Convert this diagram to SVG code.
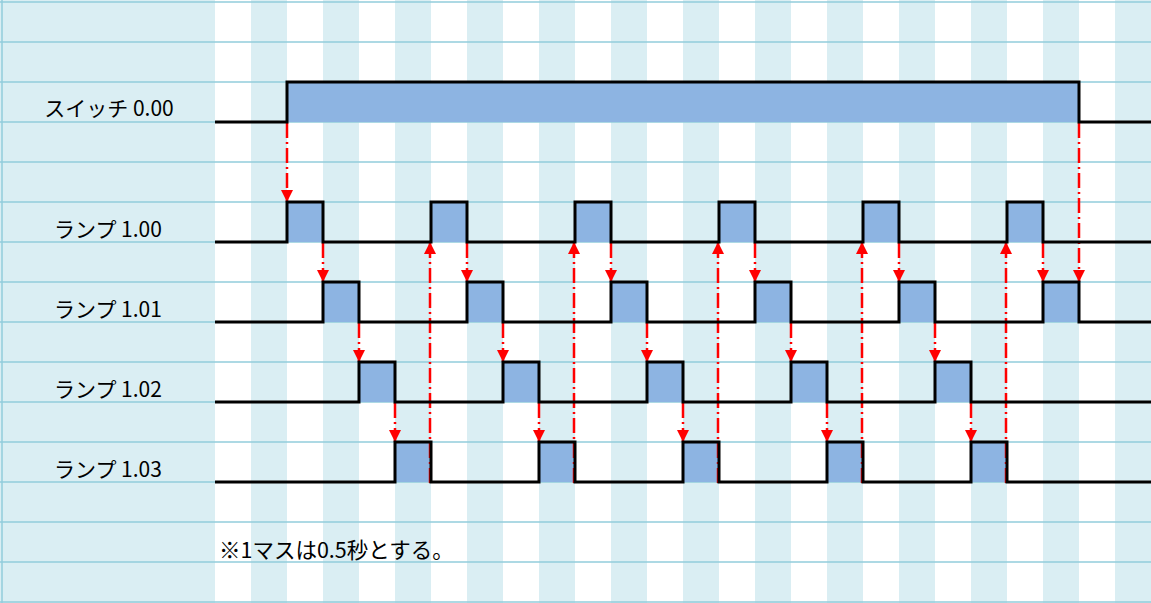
<svg xmlns="http://www.w3.org/2000/svg" width="1151" height="603" viewBox="0 0 1151 603">
<style>
.grid{stroke:#92CDDC;stroke-width:1.5;fill:none}
.wave{stroke:#000;stroke-width:3;fill:none;stroke-linejoin:miter}
.pulse{fill:#8DB4E2}
.conn{stroke:#FF0000;stroke-width:2.5;fill:none;stroke-dasharray:15 4 2 4}
.lbl{font-family:"Noto Sans CJK JP","Liberation Sans",sans-serif;font-size:21px;fill:#000}
.note{font-family:"Noto Sans CJK JP","Liberation Sans",sans-serif;font-size:21.5px;fill:#000}
</style>
<defs>
<marker id="ah" markerUnits="userSpaceOnUse" markerWidth="12" markerHeight="12" refX="12" refY="6" orient="auto">
<path d="M0,0 L12,6 L0,12 z" fill="#FF0000"/>
</marker>
</defs>
<g id="background">
<rect x="0" y="0" width="1151" height="603" fill="#DAEEF3"/>
<g fill="#FFFFFF">
<rect x="215" y="0" width="36" height="603"/>
<rect x="287" y="0" width="36" height="603"/>
<rect x="359" y="0" width="36" height="603"/>
<rect x="431" y="0" width="36" height="603"/>
<rect x="503" y="0" width="36" height="603"/>
<rect x="575" y="0" width="36" height="603"/>
<rect x="647" y="0" width="36" height="603"/>
<rect x="719" y="0" width="36" height="603"/>
<rect x="791" y="0" width="36" height="603"/>
<rect x="863" y="0" width="36" height="603"/>
<rect x="935" y="0" width="36" height="603"/>
<rect x="1007" y="0" width="36" height="603"/>
<rect x="1079" y="0" width="36" height="603"/>
</g>
<path class="grid" d="M0,2H1151M0,42H1151M0,82H1151M0,122H1151M0,162H1151M0,202H1151M0,242H1151M0,282H1151M0,322H1151M0,362H1151M0,402H1151M0,442H1151M0,482H1151M0,522H1151M0,562H1151M0,602H1151M2,0V603"/>
</g>
<g id="fills">
<rect class="pulse" x="287" y="82" width="792" height="40"/>
<rect class="pulse" x="287" y="202" width="36" height="40"/>
<rect class="pulse" x="431" y="202" width="36" height="40"/>
<rect class="pulse" x="575" y="202" width="36" height="40"/>
<rect class="pulse" x="719" y="202" width="36" height="40"/>
<rect class="pulse" x="863" y="202" width="36" height="40"/>
<rect class="pulse" x="1007" y="202" width="36" height="40"/>
<rect class="pulse" x="323" y="282" width="36" height="40"/>
<rect class="pulse" x="467" y="282" width="36" height="40"/>
<rect class="pulse" x="611" y="282" width="36" height="40"/>
<rect class="pulse" x="755" y="282" width="36" height="40"/>
<rect class="pulse" x="899" y="282" width="36" height="40"/>
<rect class="pulse" x="1043" y="282" width="36" height="40"/>
<rect class="pulse" x="359" y="362" width="36" height="40"/>
<rect class="pulse" x="503" y="362" width="36" height="40"/>
<rect class="pulse" x="647" y="362" width="36" height="40"/>
<rect class="pulse" x="791" y="362" width="36" height="40"/>
<rect class="pulse" x="935" y="362" width="36" height="40"/>
<rect class="pulse" x="395" y="442" width="36" height="40"/>
<rect class="pulse" x="539" y="442" width="36" height="40"/>
<rect class="pulse" x="683" y="442" width="36" height="40"/>
<rect class="pulse" x="827" y="442" width="36" height="40"/>
<rect class="pulse" x="971" y="442" width="36" height="40"/>
</g>
<g id="connectors">
<path class="conn" marker-end="url(#ah)" d="M287,123V202"/>
<path class="conn" marker-end="url(#ah)" d="M1079,123V282"/>
<path class="conn" marker-end="url(#ah)" d="M323,243V282"/>
<path class="conn" marker-end="url(#ah)" d="M467,243V282"/>
<path class="conn" marker-end="url(#ah)" d="M611,243V282"/>
<path class="conn" marker-end="url(#ah)" d="M755,243V282"/>
<path class="conn" marker-end="url(#ah)" d="M899,243V282"/>
<path class="conn" marker-end="url(#ah)" d="M1043,243V282"/>
<path class="conn" marker-end="url(#ah)" d="M359,323V362"/>
<path class="conn" marker-end="url(#ah)" d="M503,323V362"/>
<path class="conn" marker-end="url(#ah)" d="M647,323V362"/>
<path class="conn" marker-end="url(#ah)" d="M791,323V362"/>
<path class="conn" marker-end="url(#ah)" d="M935,323V362"/>
<path class="conn" marker-end="url(#ah)" d="M395,403V442"/>
<path class="conn" marker-end="url(#ah)" d="M539,403V442"/>
<path class="conn" marker-end="url(#ah)" d="M683,403V442"/>
<path class="conn" marker-end="url(#ah)" d="M827,403V442"/>
<path class="conn" marker-end="url(#ah)" d="M971,403V442"/>
<path class="conn" marker-end="url(#ah)" d="M430,483V242"/>
<path class="conn" marker-end="url(#ah)" d="M574,483V242"/>
<path class="conn" marker-end="url(#ah)" d="M718,483V242"/>
<path class="conn" marker-end="url(#ah)" d="M862,483V242"/>
<path class="conn" marker-end="url(#ah)" d="M1006,483V242"/>
</g>
<g id="switch-0.00">
<text class="lbl" x="109" y="116" text-anchor="middle">スイッチ 0.00</text>
<path class="wave" d="M215,122H287V82H1079V122H1151"/>
</g>
<g id="lamp-1.00">
<text class="lbl" x="108" y="237" text-anchor="middle">ランプ 1.00</text>
<path class="wave" d="M215,242H287V202H323V242H431V202H467V242H575V202H611V242H719V202H755V242H863V202H899V242H1007V202H1043V242H1151"/>
</g>
<g id="lamp-1.01">
<text class="lbl" x="108" y="317" text-anchor="middle">ランプ 1.01</text>
<path class="wave" d="M215,322H323V282H359V322H467V282H503V322H611V282H647V322H755V282H791V322H899V282H935V322H1043V282H1079V322H1151"/>
</g>
<g id="lamp-1.02">
<text class="lbl" x="108" y="397" text-anchor="middle">ランプ 1.02</text>
<path class="wave" d="M215,402H359V362H395V402H503V362H539V402H647V362H683V402H791V362H827V402H935V362H971V402H1151"/>
</g>
<g id="lamp-1.03">
<text class="lbl" x="108" y="477" text-anchor="middle">ランプ 1.03</text>
<path class="wave" d="M215,482H395V442H431V482H539V442H575V482H683V442H719V482H827V442H863V482H971V442H1007V482H1151"/>
</g>
<g id="note">
<text class="note" x="219" y="558">※1マスは0.5秒とする。</text>
</g>
</svg>
